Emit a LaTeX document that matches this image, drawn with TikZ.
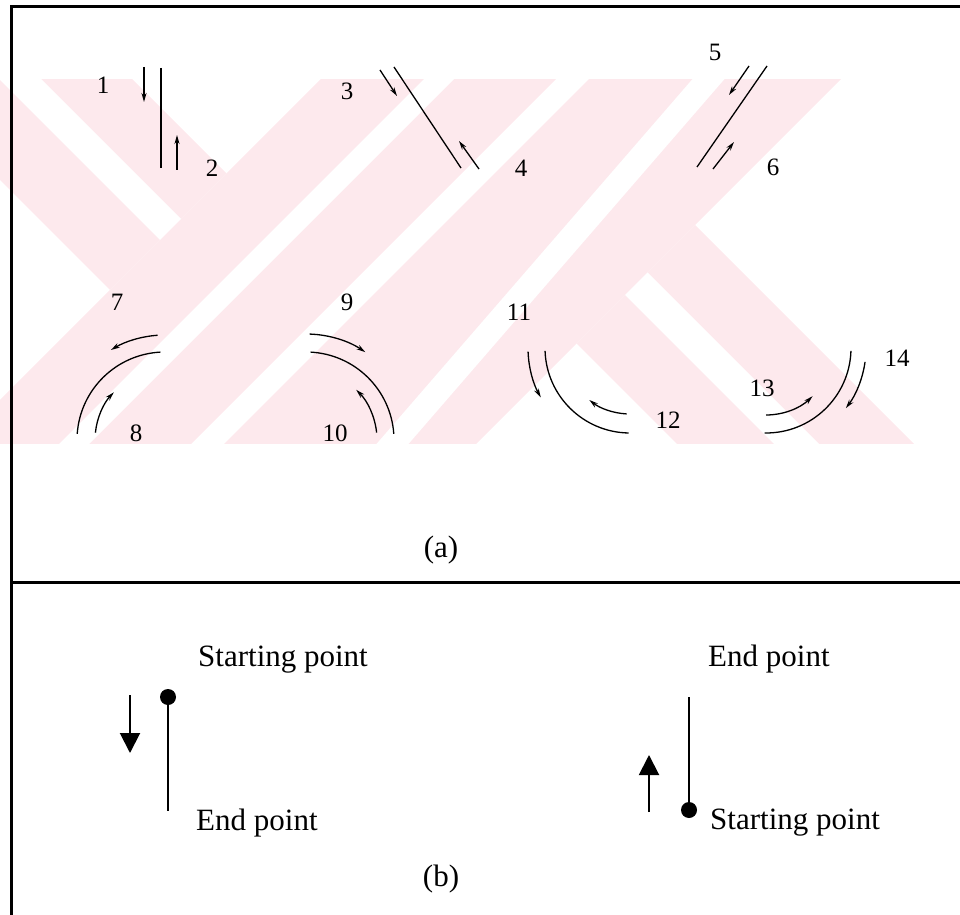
\documentclass[tikz,border=0pt]{standalone}
\usepackage{fontspec}
\setmainfont{Liberation Serif}
\usetikzlibrary{arrows.meta,calc}
\definecolor{wmpink}{RGB}{253,233,237}
\tikzset{
  lbl/.style={inner sep=0pt, font=\fontsize{25}{30}\selectfont},
  txt/.style={inner sep=0pt, anchor=west, font=\fontsize{31}{36}\selectfont},
  captext/.style={inner sep=0pt, font=\fontsize{31}{36}\selectfont},
  thinline/.style={line width=1.3pt},
  sarr/.style={line width=1.3pt, -{Stealth[length=9pt,width=5pt]}},
  barr/.style={line width=2pt, -{Triangle[length=20pt,width=20pt]}},
  boxline/.style={line width=3pt},
  dotnode/.style={circle, fill, inner sep=0pt, minimum size=16pt},
}
\begin{document}
\begin{tikzpicture}[x=1pt,y=1pt]
\useasboundingbox (0,0) rectangle (960,914);
% watermark
\begin{scope}
\clip (0,471) rectangle (960,834);
\fill[wmpink] (-280,1014) -- (-47,1014) -- (226.5,740.5) -- (110,624) -- cycle;
\fill[wmpink] (400,914) -- (635,914) -- (135,414) -- (-100,414) -- cycle;
\fill[wmpink] (668,914) -- (920,914) -- (420,414) -- (168,414) -- cycle;
\fill[wmpink] (576.5,570.5) -- (695,689) -- (1070,314) -- (833,314) -- cycle;
\fill[white] (-180,1014) -- (-138,1014) -- (181,695) -- (160,674) -- cycle;
\fill[white] (503,914) -- (533,914) -- (33,414) -- (3,414) -- cycle;
\fill[white] (709,854) -- (741,854) -- (392,451) -- (360,451) -- cycle;
\fill[white] (625,619) -- (647.5,641.5) -- (975,314) -- (930,314) -- cycle;
\end{scope}
% frame
\coordinate (ftr) at (962,907);
\coordinate (ftl) at (11,907);
\coordinate (fbl) at (11,-2);
\coordinate (fml) at (11,332);
\coordinate (fmr) at (962,332);
\draw[boxline] (ftr) -- (ftl) -- (fbl);
\draw[boxline] (fml) -- (fmr);
% labels (a)
\node[lbl] (n1) at (103,829) {1};
\node[lbl] (n2) at (212,746) {2};
\node[lbl] (n3) at (347,823) {3};
\node[lbl] (n4) at (521,746) {4};
\node[lbl] (n5) at (715,862) {5};
\node[lbl] (n6) at (773,747) {6};
\node[lbl] (n7) at (117,612) {7};
\node[lbl] (n8) at (136,481) {8};
\node[lbl] (n9) at (347,612) {9};
\node[lbl] (n10) at (335,481) {10};
\node[lbl] (n11) at (519,602) {11};
\node[lbl] (n12) at (668,494) {12};
\node[lbl] (n13) at (762,526) {13};
\node[lbl] (n14) at (897,556) {14};
% straight paths
\coordinate (a1s) at (144,847); \coordinate (a1e) at (144,812);
\coordinate (l12s) at (161,846); \coordinate (l12e) at (161,746);
\coordinate (a2s) at (177,744); \coordinate (a2e) at (177,779);
\draw[sarr] (a1s) -- (a1e);
\draw[thinline] (l12s) -- (l12e);
\draw[sarr] (a2s) -- (a2e);
\coordinate (a3s) at (380,844); \coordinate (a3e) at (397,818);
\coordinate (l34s) at (394,847); \coordinate (l34e) at (461,746);
\coordinate (a4s) at (479,745); \coordinate (a4e) at (459,773);
\draw[sarr] (a3s) -- (a3e);
\draw[thinline] (l34s) -- (l34e);
\draw[sarr] (a4s) -- (a4e);
\coordinate (a5s) at (749,848); \coordinate (a5e) at (729,819);
\coordinate (l56s) at (767,848); \coordinate (l56e) at (697,747);
\coordinate (a6s) at (713,745); \coordinate (a6e) at (734,772);
\draw[sarr] (a5s) -- (a5e);
\draw[thinline] (l56s) -- (l56e);
\draw[sarr] (a6s) -- (a6e);
% curved paths
\coordinate (c78) at (165,474);
\coordinate (c910) at (306,474);
\coordinate (c1112) at (630,566);
\coordinate (c1314) at (766,566);
\draw[sarr] ($(c78)+(94:105pt)$) arc[start angle=94,end angle=121,radius=105pt];
\draw[thinline] ($(c78)+(93:88pt)$) arc[start angle=93,end angle=176,radius=88pt];
\draw[sarr] ($(c78)+(174:70pt)$) arc[start angle=174,end angle=137,radius=70pt];
\draw[sarr] ($(c910)+(88:106pt)$) arc[start angle=88,end angle=56,radius=106pt];
\draw[thinline] ($(c910)+(87:88pt)$) arc[start angle=87,end angle=4,radius=88pt];
\draw[sarr] ($(c910)+(6:71pt)$) arc[start angle=6,end angle=45,radius=71pt];
\draw[sarr] ($(c1112)+(182:102pt)$) arc[start angle=182,end angle=209,radius=102pt];
\draw[thinline] ($(c1112)+(182:85pt)$) arc[start angle=182,end angle=269,radius=85pt];
\draw[sarr] ($(c1112)+(267:66pt)$) arc[start angle=267,end angle=232,radius=66pt];
\draw[sarr] ($(c1314)+(270:67pt)$) arc[start angle=270,end angle=314,radius=67pt];
\draw[thinline] ($(c1314)+(269:85pt)$) arc[start angle=269,end angle=358,radius=85pt];
\draw[sarr] ($(c1314)+(352:100pt)$) arc[start angle=352,end angle=323,radius=100pt];
\node[captext] (capa) at (441,364) {(a)};
% part (b)
\node[dotnode] (d1) at (168,217) {};
\coordinate (e1) at (168,103);
\draw[line width=2pt] (d1.center) -- (e1);
\coordinate (b1s) at (130,219); \coordinate (b1e) at (130,161);
\draw[barr] (b1s) -- (b1e);
\node[txt] (sp1) at (198,254) {Starting point};
\node[txt] (ep1) at (196,91) {End point};
\node[dotnode] (d2) at (689,104) {};
\coordinate (e2) at (689,217);
\draw[line width=2pt] (d2.center) -- (e2);
\coordinate (b2s) at (649,102); \coordinate (b2e) at (649,159);
\draw[barr] (b2s) -- (b2e);
\node[txt] (ep2) at (708,255) {End point};
\node[txt] (sp2) at (710,91) {Starting point};
\node[captext] (capb) at (441,35) {(b)};
\end{tikzpicture}
\end{document}
